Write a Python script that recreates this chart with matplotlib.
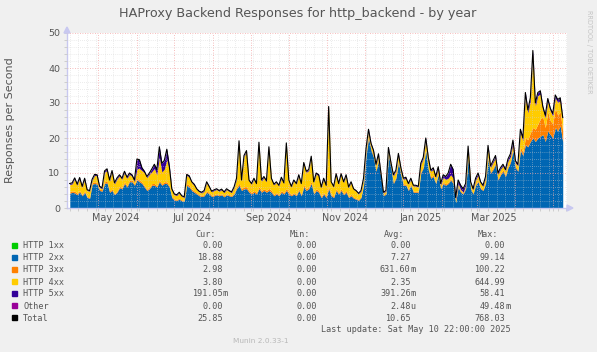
import numpy as np
import pandas as pd
import matplotlib
matplotlib.use('Agg')
import matplotlib.pyplot as plt
from matplotlib.patches import Rectangle, Polygon

W, H = 597, 352

# 2-day samples starting 2024-04-08 (responses per second)
total = [
    7.0, 7.2, 8.6, 6.8, 8.7, 6.2, 8.5, 5.2, 5.0, 8.2,
    9.6, 9.5, 6.2, 5.8, 10.6, 11.2, 8.0, 10.7, 7.2, 8.6,
    9.5, 8.5, 10.5, 8.8, 10.0, 9.5, 8.0, 14.0, 13.8, 11.5,
    10.5, 9.0, 10.0, 11.2, 12.5, 11.0, 17.5, 12.8, 13.6, 16.8,
    12.0, 5.5, 4.0, 3.8, 4.5, 3.5, 3.2, 9.6, 9.2, 7.5,
    6.8, 5.5, 4.8, 4.5, 5.0, 7.5, 6.2, 4.8, 5.2, 5.5,
    5.0, 5.4, 4.6, 5.5, 5.0, 4.6, 6.0, 8.5, 19.2, 8.0,
    15.0, 16.4, 8.0, 7.0, 8.5, 7.0, 18.8, 8.0, 9.0, 7.8,
    17.5, 8.5, 6.8, 7.5, 6.5, 8.8, 7.2, 18.6, 8.0, 6.2,
    8.0, 7.0, 9.5, 7.0, 13.0, 10.5, 11.0, 14.8, 7.5, 10.0,
    9.5, 6.0, 8.5, 6.5, 29.0, 7.5, 6.2, 9.8, 7.0, 9.8,
    7.5, 9.5, 6.0, 7.5, 5.5, 5.0, 4.2, 5.0, 8.5, 17.0,
    22.5, 18.5, 16.5, 12.5, 15.5, 10.0, 4.5, 5.0, 17.3, 13.0,
    9.5, 10.8, 15.6, 11.5, 8.5, 8.8, 7.0, 8.5, 6.5, 6.5,
    6.2, 12.8, 14.5, 20.0, 14.5, 10.8, 11.5, 9.0, 11.8, 7.0,
    9.5, 9.0, 10.0, 12.5, 11.0, 3.0, 8.0, 6.5, 5.5, 7.0,
    17.7, 7.5, 5.5, 8.5, 10.0, 7.5, 6.5, 9.0, 17.9, 12.0,
    13.5, 15.0, 10.0, 11.5, 12.5, 11.0, 14.0, 15.5, 19.4, 13.5,
    12.5, 22.5, 20.0, 33.0, 28.0, 31.5, 45.0, 30.0, 33.0, 33.5,
    29.0, 26.5, 31.3, 28.5, 27.0, 32.3, 31.0, 31.5, 25.85,
]
http_2xx = [
    4.2, 4.5, 4.3, 3.8, 4.6, 3.5, 4.5, 3.0, 2.8, 6.8,
    7.0, 6.8, 5.0, 4.8, 7.0, 7.2, 4.5, 5.0, 3.8, 4.5,
    5.8, 5.5, 7.0, 6.0, 7.5, 7.5, 6.5, 8.0, 7.5, 7.0,
    6.0, 5.0, 5.5, 6.5, 6.5, 6.0, 7.5, 6.5, 7.0, 7.0,
    6.0, 3.0, 2.3, 2.2, 2.5, 2.0, 2.0, 6.5, 6.0, 5.0,
    4.5, 4.0, 3.5, 3.3, 3.5, 4.5, 4.0, 3.3, 3.5, 3.8,
    3.5, 3.8, 3.2, 3.8, 3.5, 3.3, 4.0, 5.5, 6.5, 5.0,
    5.5, 5.5, 4.5, 4.0, 4.5, 4.0, 5.5, 4.5, 5.0, 4.5,
    5.0, 4.5, 3.5, 4.0, 3.5, 4.5, 4.0, 5.0, 4.0, 3.5,
    4.0, 3.5, 5.0, 3.5, 6.0, 5.0, 5.5, 7.0, 4.0, 5.0,
    4.5, 3.0, 4.0, 3.0, 5.5, 3.5, 3.0, 5.0, 4.0, 5.0,
    3.8, 4.5, 3.0, 3.5, 2.8, 2.5, 2.2, 3.0, 6.5, 15.0,
    20.0, 16.5, 14.5, 10.5, 13.5, 8.5, 3.5, 4.0, 15.0, 11.5,
    7.0, 8.5, 13.0, 9.5, 6.5, 6.5, 5.0, 6.5, 4.5, 4.5,
    4.5, 10.0, 11.5, 16.5, 11.0, 8.5, 9.0, 7.0, 9.5, 5.5,
    7.0, 6.5, 7.0, 8.0, 7.0, 1.5, 6.0, 4.5, 4.0, 5.5,
    14.0, 5.5, 4.0, 6.5, 7.5, 5.5, 5.0, 7.0, 14.0, 10.0,
    11.0, 12.5, 8.0, 9.5, 10.5, 9.0, 11.5, 13.0, 16.5, 11.5,
    10.5, 16.5, 15.0, 18.0, 17.5, 19.0, 20.0, 19.0, 20.0, 20.5,
    21.0, 19.0, 22.0, 21.0, 20.0, 23.0, 22.0, 23.5, 18.88,
]
http_3xx = [
    0.4, 0.4, 0.5, 0.4, 0.4, 0.3, 0.4, 0.3, 0.3, 0.5,
    0.5, 0.5, 0.4, 0.4, 0.5, 0.5, 0.4, 0.4, 0.3, 0.4,
    0.4, 0.4, 0.5, 0.4, 0.5, 0.5, 0.4, 0.5, 0.5, 0.4,
    0.4, 0.4, 0.4, 0.5, 0.5, 0.4, 0.5, 0.4, 0.5, 0.5,
    0.4, 0.3, 0.3, 0.3, 0.3, 0.3, 0.3, 0.5, 0.5, 0.4,
    0.4, 0.4, 0.3, 0.3, 0.3, 0.4, 0.4, 0.3, 0.3, 0.3,
    0.3, 0.3, 0.3, 0.3, 0.3, 0.3, 0.4, 0.5, 0.6, 0.5,
    0.6, 0.6, 0.5, 0.4, 0.5, 0.4, 0.6, 0.5, 0.5, 0.5,
    0.6, 0.5, 0.4, 0.4, 0.4, 0.5, 0.4, 0.6, 0.5, 0.4,
    0.4, 0.4, 0.5, 0.4, 0.6, 0.5, 0.5, 0.6, 0.4, 0.5,
    0.5, 0.4, 0.4, 0.4, 0.6, 0.4, 0.4, 0.5, 0.4, 0.5,
    0.4, 0.5, 0.4, 0.4, 0.3, 0.3, 0.3, 0.3, 0.4, 0.5,
    0.6, 0.5, 0.5, 0.4, 0.5, 0.4, 0.3, 0.3, 0.5, 0.4,
    0.4, 0.4, 0.5, 0.4, 0.4, 0.4, 0.3, 0.4, 0.3, 0.3,
    0.3, 0.4, 0.4, 0.5, 0.4, 0.4, 0.4, 0.3, 0.4, 0.3,
    0.4, 0.4, 0.4, 0.4, 0.4, 0.2, 0.3, 0.3, 0.3, 0.3,
    0.5, 0.3, 0.3, 0.3, 0.4, 0.3, 0.3, 0.4, 0.5, 0.4,
    0.5, 0.5, 0.4, 0.4, 0.5, 0.4, 0.5, 0.5, 0.7, 0.5,
    0.3, 1.0, 1.0, 2.0, 2.0, 2.5, 3.0, 3.5, 4.0, 5.0,
    5.0, 4.0, 5.5, 4.0, 4.0, 5.5, 4.5, 4.0, 2.98,
]
http_5xx = [
    0.3, 0.3, 0.3, 0.3, 0.3, 0.3, 0.3, 0.2, 0.2, 0.3,
    0.3, 0.3, 0.3, 0.3, 0.4, 0.4, 0.3, 0.3, 0.3, 0.3,
    0.3, 0.3, 0.4, 0.3, 0.4, 0.4, 0.5, 2.8, 2.5, 0.8,
    0.4, 0.3, 0.4, 0.8, 1.2, 1.5, 3.0, 2.5, 2.5, 3.0,
    1.0, 0.2, 0.2, 0.2, 0.2, 0.2, 0.2, 0.3, 0.3, 0.3,
    0.3, 0.2, 0.2, 0.2, 0.2, 0.3, 0.3, 0.2, 0.2, 0.2,
    0.2, 0.2, 0.2, 0.2, 0.2, 0.2, 0.2, 0.3, 0.3, 0.3,
    0.3, 0.3, 0.3, 0.2, 0.3, 0.2, 0.3, 0.3, 0.3, 0.3,
    0.3, 0.3, 0.2, 0.2, 0.2, 0.3, 0.2, 0.3, 0.3, 0.2,
    0.2, 0.2, 0.3, 0.2, 0.3, 0.3, 0.3, 0.3, 0.2, 0.3,
    0.3, 0.2, 0.3, 0.2, 0.3, 0.2, 0.2, 0.3, 0.2, 0.3,
    0.2, 0.3, 0.2, 0.2, 0.2, 0.2, 0.2, 0.2, 0.3, 0.4,
    0.5, 0.4, 0.4, 0.3, 0.4, 0.3, 0.2, 0.2, 0.4, 0.3,
    0.3, 0.3, 0.4, 0.3, 0.3, 0.3, 0.2, 0.3, 0.2, 0.2,
    0.2, 0.4, 0.4, 0.5, 0.4, 0.3, 0.4, 0.3, 0.6, 0.4,
    0.8, 0.8, 1.5, 3.0, 2.5, 0.5, 1.0, 1.2, 1.0, 0.6,
    0.5, 0.4, 0.3, 0.5, 0.6, 0.4, 0.3, 0.4, 0.5, 0.4,
    0.5, 0.6, 0.4, 0.4, 0.5, 0.4, 0.6, 0.8, 1.0, 0.6,
    0.4, 0.8, 0.8, 1.0, 0.8, 0.9, 1.0, 0.8, 0.9, 0.9,
    0.8, 0.7, 0.9, 0.7, 0.7, 0.9, 0.8, 0.8, 0.19,
]

legend_names = ['HTTP 1xx', 'HTTP 2xx', 'HTTP 3xx', 'HTTP 4xx', 'HTTP 5xx', 'Other', 'Total']
legend_colors = ['#00CC00', '#0066B3', '#FF8000', '#FFCC00', '#330099', '#990099', '#000000']
cur_vals = ['0.00 ', '18.88 ', '2.98 ', '3.80 ', '191.05m', '0.00 ', '25.85 ']
min_vals = ['0.00 '] * 7
avg_vals = ['0.00 ', '7.27 ', '631.60m', '2.35 ', '391.26m', '2.48u', '10.65 ']
max_vals = ['0.00 ', '99.14 ', '100.22 ', '644.99 ', '58.41 ', '49.48m', '768.03 ']

days = pd.date_range('2024-04-08', periods=len(total), freq='2D')
t = np.array(total)
b2 = np.array(http_2xx)
b3 = np.array(http_3xx)
b5 = np.array(http_5xx)
b4 = np.clip(t - b2 - b3 - b5, 0, None)   # 4xx band = what is left up to the Total line

fig = plt.figure(figsize=(W / 100, H / 100), dpi=100, facecolor='#F0F0F0')
ax = fig.add_axes([67 / W, 1 - 208 / H, 500 / W, 175 / H])
ax.set_facecolor('white')

lvl0 = np.zeros_like(t)
lvl1 = lvl0 + b2
lvl2 = lvl1 + b3
lvl3 = lvl2 + b4
lvl4 = lvl3 + b5
ax.fill_between(days, lvl0, lvl1, color='#0066B3', lw=0, zorder=1)
ax.fill_between(days, lvl1, lvl2, color='#FF8000', lw=0, zorder=1)
ax.fill_between(days, lvl2, lvl3, color='#FFCC00', lw=0, zorder=1)
ax.fill_between(days, lvl3, lvl4, color='#330099', lw=0, zorder=1)
ax.plot(days, t, color='black', lw=0.8, zorder=3)

left = pd.Timestamp('2024-04-05 20:00')
ax.set_xlim(left, left + pd.Timedelta(days=401.6))
ax.set_ylim(0, 50)

ax.set_yticks(range(0, 51, 10))
ax.set_yticks(range(0, 51, 2), minor=True)
ax.set_xticks(pd.date_range('2024-05-01', '2025-05-01', freq='MS'))
ax.set_xticks(pd.date_range('2024-04-08', '2025-05-12', freq='W-MON'), minor=True)
ax.set_xticklabels([])
ax.set_axisbelow(False)
ax.grid(which='minor', color='#d2d2d2', lw=0.5, linestyle=(0, (1, 2)), alpha=0.8)
ax.grid(which='major', color='#f4a6a6', lw=0.6, linestyle=(0, (1, 2)))
ax.tick_params(which='both', length=2, width=0.6, color='#c8c8c8', labelsize=6.8,
               labelcolor='#555555', pad=3)

for s in ['top', 'right']:
    ax.spines[s].set_visible(False)
for s in ['left', 'bottom']:
    ax.spines[s].set_color('#c8c8f0')
    ax.spines[s].set_linewidth(1.0)

label_days = pd.to_datetime(['2024-05-15', '2024-07-15', '2024-09-15',
                             '2024-11-15', '2025-01-15', '2025-03-15'])
for d in label_days:
    ax.text(d, -1.5, d.strftime('%b %Y'), ha='center', va='top', fontsize=6.9,
            color='#555555', clip_on=False)

def fx(x):
    return x / W

def fy(y):
    return 1 - y / H

# axis arrows
fig.add_artist(Polygon([(fx(64), fy(33)), (fx(70), fy(33)), (fx(67), fy(27))],
                       closed=True, color='#c8c8f0', transform=fig.transFigure))
fig.add_artist(Polygon([(fx(567), fy(205)), (fx(567), fy(211)), (fx(573), fy(208))],
                       closed=True, color='#c8c8f0', transform=fig.transFigure))

fig.text(fx(298), fy(13.5), 'HAProxy Backend Responses for http_backend - by year',
         ha='center', va='center', fontsize=9.2, color='#555555')
fig.text(fx(10.5), fy(120.5), 'Responses per Second', rotation=90,
         ha='center', va='center', fontsize=8.0, color='#555555')
fig.text(fx(589), fy(52), 'RRDTOOL / TOBI OETIKER', rotation=270,
         ha='center', va='center', fontsize=4.7, color='#c4c4c4')

mono = dict(family='DejaVu Sans Mono', fontsize=6.1, color='#555555')
hdr_y = 234 + 3
for txt, xr in [('Cur:', 216), ('Min:', 310), ('Avg:', 404), ('Max:', 498.3)]:
    fig.text(fx(xr), fy(hdr_y), txt, ha='right', va='baseline', **mono)

row_y = [245, 257.2, 269.3, 281.6, 293.4, 305.6, 317.7]
col_x = [222.7, 316.7, 410.7, 505.0]
for i, name in enumerate(legend_names):
    yc = row_y[i]
    fig.add_artist(Rectangle((fx(12.3), fy(yc + 2.5)), 5 / W, 5 / H,
                             color=legend_colors[i], transform=fig.transFigure))
    fig.text(fx(23.3), fy(yc + 3), name, ha='left', va='baseline', **mono)
    for xr, vals in zip(col_x, [cur_vals, min_vals, avg_vals, max_vals]):
        v = vals[i]
        fig.text(fx(xr), fy(yc + 3), v[:-1], ha='right', va='baseline', **mono)
        if v[-1] != ' ':
            fig.text(fx(xr), fy(yc + 3), v[-1], ha='left', va='baseline', **mono)

fig.text(fx(510.7), fy(329.3 + 3), 'Last update: Sat May 10 22:00:00 2025',
         ha='right', va='baseline', **mono)
fig.text(fx(261), fy(341), 'Munin 2.0.33-1', ha='center', va='center',
         fontsize=5.3, color='#b8b8b8')

fig.savefig('out.png', dpi=100, facecolor=fig.get_facecolor())
